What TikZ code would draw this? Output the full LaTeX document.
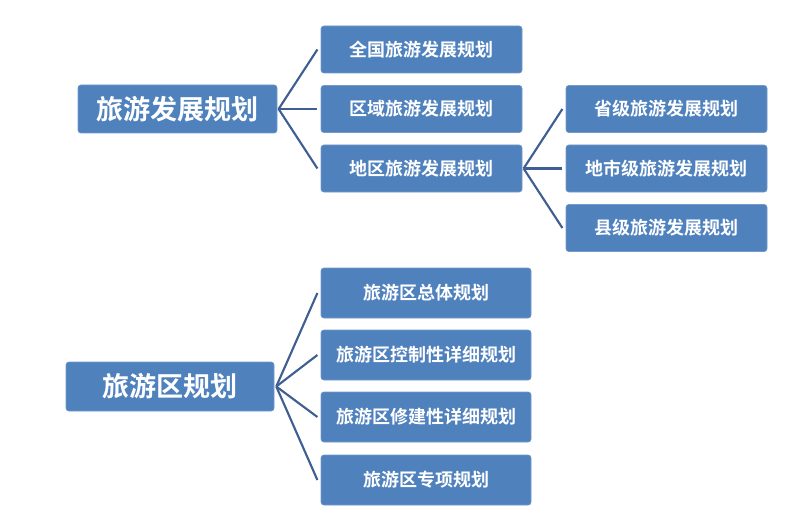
\documentclass[tikz,border=0pt]{standalone}
\usepackage{fontspec}
\setmainfont{Noto Sans CJK SC}[BoldFont={Noto Sans CJK SC Bold}]
\definecolor{boxblue}{HTML}{4F81BD}
\definecolor{lineblue}{HTML}{3F5F92}
\begin{document}
\begin{tikzpicture}[x=0.75pt, y=-0.75pt,
    bigbox/.style={draw=boxblue!80!white, fill=boxblue, rounded corners=2pt, text=white,
        font=\bfseries\fontsize{20.3}{24}\selectfont, inner sep=0pt},
    smallbox/.style={draw=boxblue!80!white, fill=boxblue, rounded corners=2pt, text=white,
        font=\bfseries\fontsize{13.5}{16}\selectfont, inner sep=0pt,
        minimum width=150.75pt, minimum height=35.25pt},
    widebox/.style={smallbox, minimum width=157.5pt, minimum height=37.5pt},
    branch/.style={draw=lineblue, line width=1.6pt}]
    \useasboundingbox (0,0) rectangle (787,520);
    % 旅游发展规划
    \node[bigbox, minimum width=149.25pt, minimum height=36pt] (plan) at (177.5,109) {旅游发展规划};
    \node[smallbox] (quanguo) at (421.5,49.5) {全国旅游发展规划};
    \node[smallbox] (quyu) at (421.5,109) {区域旅游发展规划};
    \node[smallbox] (diqu) at (421.5,168.5) {地区旅游发展规划};
    \node[smallbox] (shengji) at (666.5,109) {省级旅游发展规划};
    \node[smallbox] (dishi) at (666.5,168.5) {地市级旅游发展规划};
    \node[smallbox] (xianji) at (666.5,228) {县级旅游发展规划};
    \coordinate (fork1) at ([xshift=1pt]plan.east);
    \coordinate (fork2) at ([xshift=1pt]diqu.east);
    \foreach \n in {quanguo, quyu, diqu}
        \draw[branch] (fork1) -- ([xshift=-2.5pt]\n.west);
    \foreach \n in {shengji, dishi, xianji}
        \draw[branch] (fork2) -- ([xshift=-2.5pt]\n.west);
    % 旅游区规划
    \node[bigbox, minimum width=156pt, minimum height=36.75pt] (area) at (170,386.5) {旅游区规划};
    \node[widebox] (zongti) at (426,293) {旅游区总体规划};
    \node[widebox] (kongzhi) at (426,355) {旅游区控制性详细规划};
    \node[widebox] (xiujian) at (426,417) {旅游区修建性详细规划};
    \node[widebox] (zhuanxiang) at (426,480) {旅游区专项规划};
    \coordinate (fork3) at ([xshift=1.5pt]area.east);
    \foreach \n in {zongti, kongzhi, xiujian, zhuanxiang}
        \draw[branch] (fork3) -- ([xshift=-2.5pt]\n.west);
\end{tikzpicture}
\end{document}
